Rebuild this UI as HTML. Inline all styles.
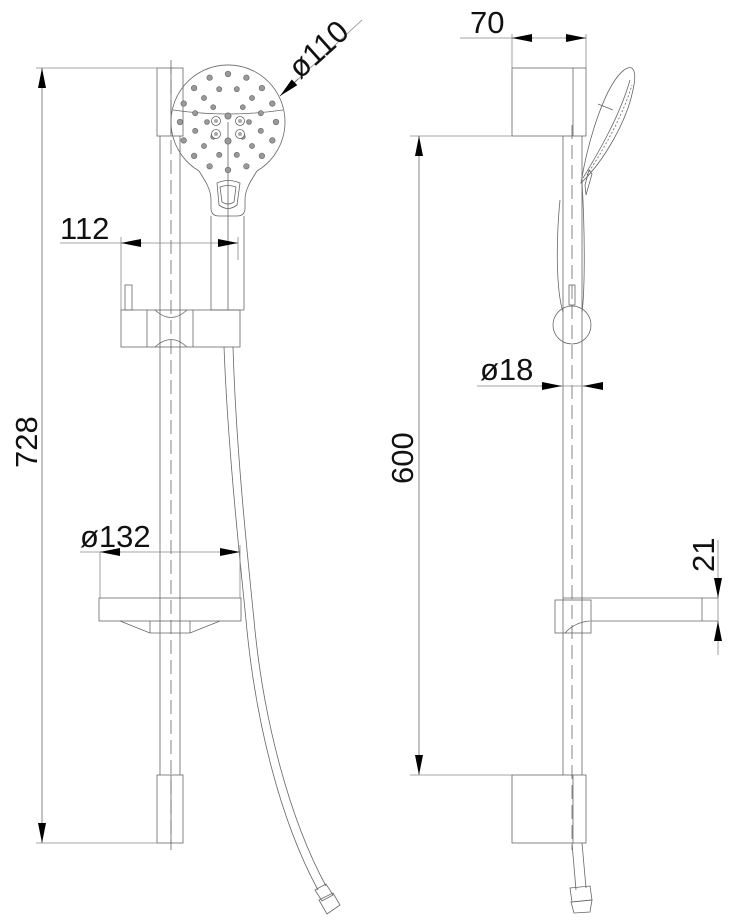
<!DOCTYPE html>
<html><head><meta charset="utf-8"><style>
html,body{margin:0;padding:0;background:#fff;}
svg{display:block}
text{font-family:"Liberation Sans",sans-serif;font-size:31px;fill:#111}
</style></head><body>
<svg width="734" height="920" viewBox="0 0 734 920" xmlns="http://www.w3.org/2000/svg">
<defs>
<marker id="a" viewBox="0 0 20 8" refX="20" refY="4" markerWidth="20" markerHeight="8" markerUnits="userSpaceOnUse" orient="auto"><path d="M0,0 L20,4 L0,8 Z" fill="#000"/></marker>
</defs>
<g fill="none" stroke="#666" stroke-width="0.8">
<line x1="160" y1="136" x2="160" y2="775"/><line x1="180" y1="136" x2="180" y2="775"/>
<line x1="171" y1="60" x2="171" y2="850" stroke-dasharray="14,6"/>
<rect x="157" y="68" width="26" height="68"/><line x1="171" y1="68" x2="171" y2="136"/>
<rect x="157" y="775" width="26" height="68"/><line x1="171" y1="775" x2="171" y2="843"/>
<line x1="36" y1="68" x2="157" y2="68" stroke="#888"/><line x1="36" y1="843" x2="157" y2="843" stroke="#888"/>
<line x1="42" y1="100" x2="42" y2="68" marker-end="url(#a)"/><line x1="42" y1="800" x2="42" y2="843" marker-end="url(#a)"/>
<line x1="42" y1="100" x2="42" y2="800"/>
<path d="M199,171 A57,57 0 1 1 257,171 C250,182 245,190 245,200 L245,208 Q245,216 237,216 L219,216 Q211,216 211,208 L211,200 C211,190 206,182 199,171"/>
<path d="M173,110 Q228,118 283,110"/>
<line x1="228" y1="122" x2="228" y2="310"/>
<path d="M217,183 Q228,178 240,183 L237,205 Q228,212 219,205 Z"/>
<path d="M220,187 Q228,184 236,187 L234,202 Q228,206 222,202 Z"/>
<line x1="211" y1="216" x2="211" y2="310"/><line x1="244" y1="216" x2="244" y2="310"/>
<line x1="211" y1="310" x2="244" y2="310"/>
<line x1="60" y1="243" x2="238" y2="243" stroke="#888"/>
<line x1="142" y1="243" x2="121" y2="243" marker-end="url(#a)"/>
<line x1="218" y1="243" x2="238" y2="243" marker-end="url(#a)"/>
<line x1="121" y1="237" x2="121" y2="310" stroke="#888"/><line x1="238" y1="237" x2="238" y2="260" stroke="#888"/>
<rect x="125" y="285" width="7" height="25"/>
<rect x="121" y="310" width="119" height="37"/>
<line x1="147" y1="310" x2="147" y2="347"/><line x1="193" y1="310" x2="193" y2="347"/>
<path d="M155,310 Q171,325 187,310"/><path d="M155,347 Q171,332 187,347"/>
<path d="M224,347 C228,450 240,560 246,620 C255,720 280,820 318,890"/>
<path d="M233,347 C236,450 248,560 254,620 C263,720 290,820 326,886"/>
<path d="M315,890 L326,884 L333,895 L322,901 Z"/>
<path d="M319,900 L333,893 L340,905 L327,914 Z"/>
<rect x="99" y="598" width="142" height="23"/>
<path d="M120,621 L150,633 L190,633 L220,621"/>
<line x1="150" y1="621" x2="150" y2="633"/><line x1="190" y1="621" x2="190" y2="633"/>
<line x1="80" y1="552" x2="240" y2="552" stroke="#888"/>
<line x1="121" y1="552" x2="100" y2="552" marker-end="url(#a)"/>
<line x1="220" y1="552" x2="240" y2="552" marker-end="url(#a)"/>
<line x1="100" y1="552" x2="100" y2="598" stroke="#888"/><line x1="240" y1="545" x2="240" y2="598" stroke="#888"/>
<line x1="280" y1="96" x2="362" y2="20" stroke="#888"/>
<line x1="298" y1="79" x2="280" y2="96" marker-end="url(#a)"/>

<line x1="563" y1="136" x2="563" y2="775"/><line x1="582" y1="136" x2="582" y2="775"/>
<line x1="572" y1="125" x2="572" y2="850" stroke-dasharray="14,6"/>
<rect x="512" y="68" width="74" height="68"/><line x1="573" y1="68" x2="573" y2="136"/>
<rect x="512" y="775" width="74" height="68"/><line x1="573" y1="775" x2="573" y2="843"/>
<line x1="460" y1="38" x2="586" y2="38" stroke="#888"/>
<line x1="533" y1="38" x2="512" y2="38" marker-end="url(#a)"/>
<line x1="565" y1="38" x2="586" y2="38" marker-end="url(#a)"/>
<line x1="512" y1="34" x2="512" y2="68" stroke="#888"/><line x1="586" y1="34" x2="586" y2="68" stroke="#888"/>
<!-- side head leaf -->
<path d="M581,183 C588,140 605,85 624,70 C634,63 637,72 633,90 C627,120 605,160 581,183 Z"/>
<path d="M583,178 C600,150 620,115 630,80"/>
<path d="M587,175 C603,150 622,118 632,85" stroke-dasharray="2,2"/>
<path d="M598,104 L613,110"/>
<path d="M585,185 L589,170 L592,174 L586,195 Z"/>
<path d="M582,183 C585,230 585,290 582,312"/>
<path d="M560,200 C556,240 556,290 563,312"/>
<rect x="569" y="285" width="6" height="20"/>
<circle cx="572" cy="325" r="19"/>
<line x1="477" y1="386" x2="603" y2="386" stroke="#888"/>
<line x1="541" y1="386" x2="562" y2="386" marker-end="url(#a)"/>
<line x1="603" y1="386" x2="583" y2="386" marker-end="url(#a)"/>
<line x1="410" y1="136" x2="512" y2="136" stroke="#888"/><line x1="410" y1="775" x2="512" y2="775" stroke="#888"/>
<line x1="419" y1="160" x2="419" y2="136" marker-end="url(#a)"/><line x1="419" y1="750" x2="419" y2="775" marker-end="url(#a)"/>
<line x1="419" y1="160" x2="419" y2="750"/>
<rect x="555" y="600" width="36" height="33"/>
<line x1="563" y1="598" x2="718" y2="598"/><line x1="591" y1="621" x2="718" y2="621"/>
<line x1="702" y1="598" x2="702" y2="621"/>
<path d="M565,633 Q575,622 590,621"/>
<line x1="718" y1="540" x2="718" y2="655" stroke="#888"/>
<line x1="718" y1="578" x2="718" y2="598" marker-end="url(#a)"/>
<line x1="718" y1="641" x2="718" y2="621" marker-end="url(#a)"/>
<path d="M572,843 L576,890"/><path d="M582,843 L586,888"/>
<path d="M570,888 L590,886 L592,900 L572,902 Z"/>
<path d="M571,902 L592,900 L590,912 L574,913 Z"/>
</g>
<g fill="#999" stroke="#666" stroke-width="0.6">
<circle cx="276" cy="122" r="2.8"/><circle cx="272.3" cy="140.4" r="2.8"/><circle cx="261.9" cy="155.9" r="2.8"/><circle cx="246.4" cy="166.3" r="2.8"/>
<circle cx="228" cy="170" r="2.8"/><circle cx="209.6" cy="166.3" r="2.8"/><circle cx="194.1" cy="155.9" r="2.8"/><circle cx="183.7" cy="140.4" r="2.8"/>
<circle cx="180" cy="122" r="2.8"/><circle cx="183.7" cy="103.6" r="2.8"/><circle cx="194.1" cy="88.1" r="2.8"/><circle cx="209.6" cy="77.7" r="2.8"/>
<circle cx="228" cy="74" r="2.8"/><circle cx="246.4" cy="77.7" r="2.8"/><circle cx="261.9" cy="88.1" r="2.8"/><circle cx="272.3" cy="103.6" r="2.8"/>
<circle cx="260.8" cy="130.8" r="2.6"/><circle cx="252" cy="146" r="2.6"/><circle cx="236.8" cy="154.8" r="2.6"/><circle cx="219.2" cy="154.8" r="2.6"/>
<circle cx="204" cy="146" r="2.6"/><circle cx="195.2" cy="130.8" r="2.6"/><circle cx="195.2" cy="113.2" r="2.6"/><circle cx="204" cy="98" r="2.6"/>
<circle cx="219.2" cy="89.2" r="2.6"/><circle cx="236.8" cy="89.2" r="2.6"/><circle cx="252" cy="98" r="2.6"/><circle cx="260.8" cy="113.2" r="2.6"/>
<circle cx="249" cy="122" r="2.5"/><circle cx="242.8" cy="136.8" r="2.5"/><circle cx="213.2" cy="136.8" r="2.5"/>
<circle cx="207" cy="122" r="2.5"/><circle cx="213.2" cy="107.2" r="2.5"/><circle cx="242.8" cy="107.2" r="2.5"/>
<circle cx="228" cy="116" r="3.2"/><circle cx="228" cy="141" r="3.2"/>
</g>
<g fill="#fff" stroke="#666" stroke-width="0.8">
<circle cx="216" cy="121" r="4.5"/><circle cx="240" cy="121" r="4.5"/><circle cx="216" cy="134" r="4.5"/><circle cx="240" cy="134" r="4.5"/>
</g>
<g fill="#aaa"><circle cx="216" cy="121" r="2"/><circle cx="240" cy="121" r="2"/><circle cx="216" cy="134" r="2"/><circle cx="240" cy="134" r="2"/></g>
<text x="37" y="468" transform="rotate(-90 37 468)">728</text>
<text x="60" y="239">112</text>
<text x="80" y="547">ø132</text>
<text x="300" y="80" transform="rotate(-42 300 80)">ø110</text>
<text x="470" y="33">70</text>
<text x="480" y="380">ø18</text>
<text x="413" y="484" transform="rotate(-90 413 484)">600</text>
<text x="714" y="572" transform="rotate(-90 714 572)">21</text>
</svg>
</body></html>
